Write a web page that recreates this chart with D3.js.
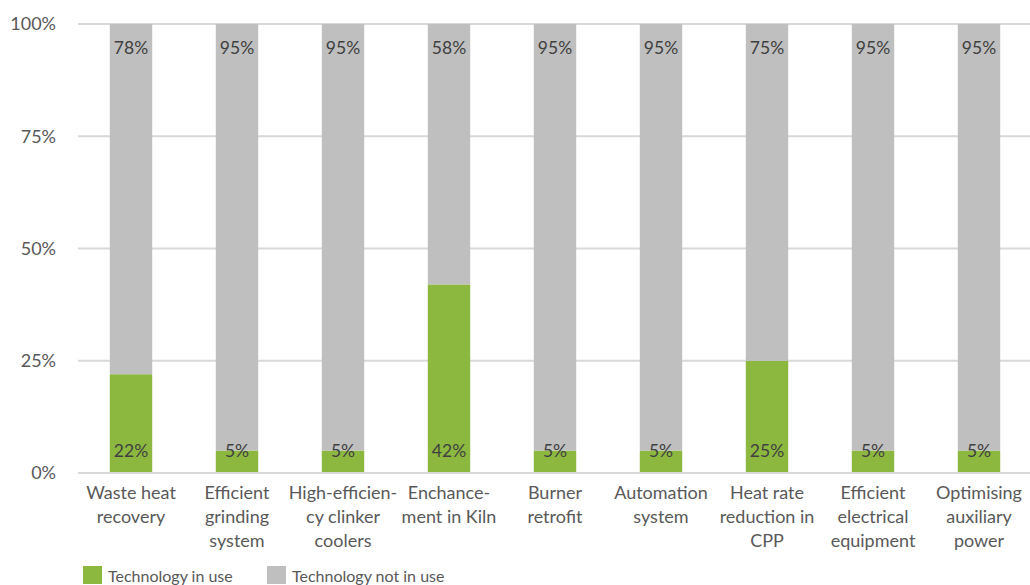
<!DOCTYPE html>
<html><head><meta charset="utf-8">
<script src="https://cdn.jsdelivr.net/npm/d3@7"></script>
<style>body{margin:0;background:#fff}svg{display:block}text{font-family:Lato,"Open Sans",sans-serif}</style>
</head><body><svg id="c" width="1030" height="585"></svg>
<script>
const categories = [
  ["Waste heat","recovery"],
  ["Efficient","grinding","system"],
  ["High-efficien-","cy clinker","coolers"],
  ["Enchance-","ment in Kiln"],
  ["Burner","retrofit"],
  ["Automation","system"],
  ["Heat rate","reduction in","CPP"],
  ["Efficient","electrical","equipment"],
  ["Optimising","auxiliary","power"]
];
const inUse = [22,5,5,42,5,5,25,5,5];
const notInUse = [78,95,95,58,95,95,75,95,95];
const yTicks = [0,25,50,75,100];
const seriesNames = ["Technology in use","Technology not in use"];
const colors = ["#8DB83F","#BFBFBF"];

(function(){
const svg = d3.select("#c");
const pl = 78, pr = 1032, pt = 24, pb = 473;
const x = d3.scaleBand().domain(d3.range(categories.length)).range([pl,pr]).paddingInner(0.6).paddingOuter(0.3);
const y = d3.scaleLinear().domain([0,100]).range([pb,pt]);

svg.append("g").selectAll("line").data(yTicks).join("line")
  .attr("x1",pl).attr("x2",1030).attr("y1",d=>y(d)).attr("y2",d=>y(d))
  .attr("stroke","#D9D9D9").attr("stroke-width",2);
svg.append("g").selectAll("text").data(yTicks).join("text")
  .attr("x",56).attr("y",d=>y(d)).attr("dy","0.35em").attr("text-anchor","end")
  .attr("fill","#595959").attr("font-size",18).text(d=>d+"%");

const g = svg.append("g");
g.selectAll("rect.u").data(inUse).join("rect").attr("class","u")
  .attr("x",(d,i)=>x(i)).attr("width",x.bandwidth())
  .attr("y",d=>y(d)).attr("height",d=>pb-y(d)).attr("fill",colors[0]);
g.selectAll("rect.n").data(notInUse).join("rect").attr("class","n")
  .attr("x",(d,i)=>x(i)).attr("width",x.bandwidth())
  .attr("y",(d,i)=>y(inUse[i]+d)).attr("height",(d,i)=>y(inUse[i])-y(inUse[i]+d)).attr("fill",colors[1]);
svg.append("line").attr("x1",pl).attr("x2",1030).attr("y1",y(0)).attr("y2",y(0)).attr("stroke","#D9D9D9").attr("stroke-width",2);

g.selectAll("text.u").data(inUse).join("text").attr("class","u")
  .attr("x",(d,i)=>x(i)+x.bandwidth()/2).attr("y",y(0)-22).attr("dy","0.35em")
  .attr("text-anchor","middle").attr("fill","#404040").attr("font-size",17.5).text(d=>d+"%");
g.selectAll("text.n").data(notInUse).join("text").attr("class","n")
  .attr("x",(d,i)=>x(i)+x.bandwidth()/2).attr("y",(d,i)=>y(inUse[i]+d)+24).attr("dy","0.35em")
  .attr("text-anchor","middle").attr("fill","#404040").attr("font-size",17.5).text(d=>d+"%");

const cl = svg.append("g");
categories.forEach((lines,i)=>{
  const t = cl.append("text").attr("text-anchor","middle").attr("fill","#595959").attr("font-size",18)
    .attr("x",x(i)+x.bandwidth()/2).attr("y",499);
  lines.forEach((s,j)=>t.append("tspan").attr("x",x(i)+x.bandwidth()/2).attr("dy",j?24:0).text(s));
});

const lg = svg.append("g");
const lx = [83,267];
seriesNames.forEach((s,i)=>{
  lg.append("rect").attr("x",lx[i]).attr("y",566).attr("width",19).attr("height",18).attr("fill",colors[i]);
  lg.append("text").attr("x",lx[i]+25).attr("y",576).attr("dy","0.35em").attr("fill","#595959").attr("font-size",16).text(s);
});
})();
</script></body></html>
